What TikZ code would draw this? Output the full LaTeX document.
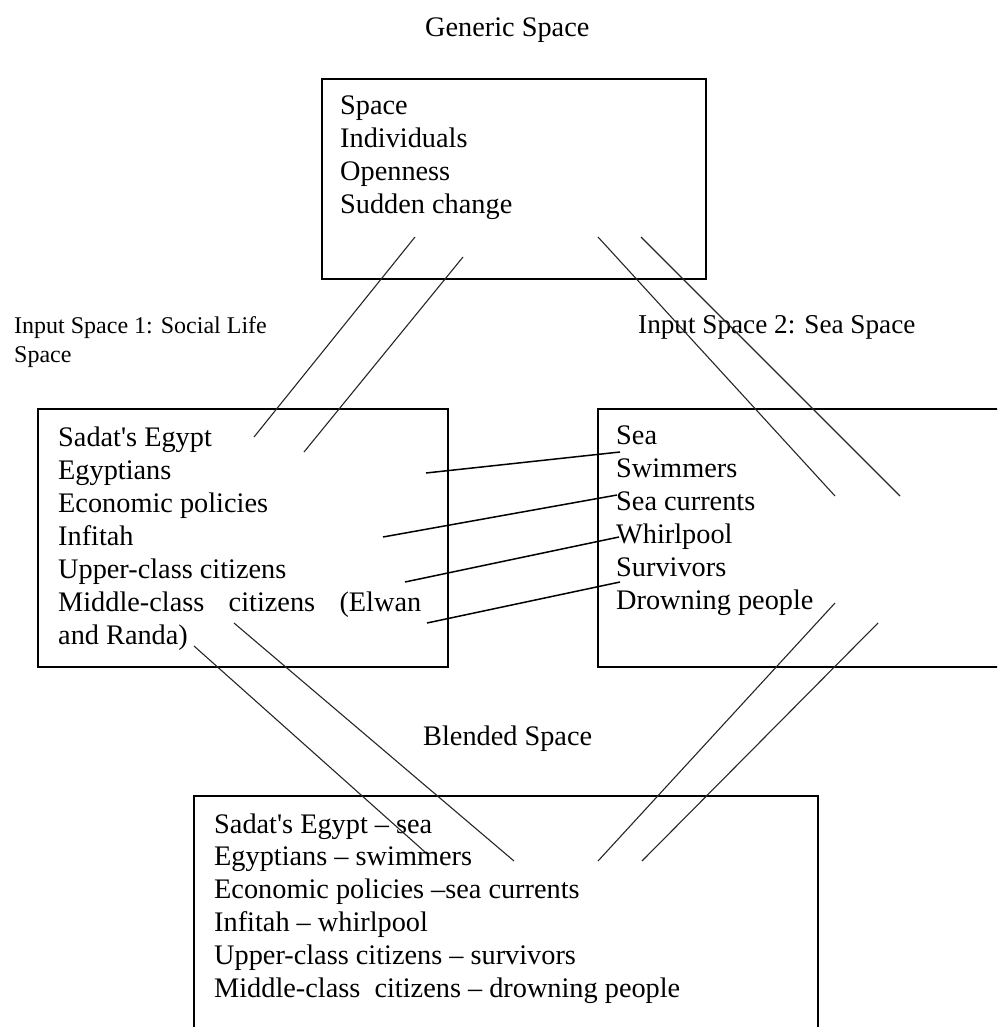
\documentclass[tikz,border=0pt]{standalone}
\usepackage{fontspec}
\setmainfont{Liberation Serif}
\begin{document}
\begin{tikzpicture}[x=1pt,y=-1pt,
  spacebox/.style={draw=black, line width=1.6pt, anchor=north west, inner sep=0pt, outer sep=0pt},
  boxtext/.style={anchor=north west, inner sep=0pt, align=left, font=\fontsize{28.3}{33}\selectfont},
  heading/.style={anchor=base west, inner sep=0pt, font=\fontsize{28.3}{33}\selectfont},
  link/.style={line width=1.5pt, black},
  diag/.style={line width=1.1pt, black!85}]
\useasboundingbox (0,0) rectangle (997,1027);
\clip (0,0) rectangle (997,1027);

% headings
\node[heading] (genlabel) at (425,37) {Generic Space};
\node[anchor=north west, inner sep=0pt, align=left, font=\fontsize{24}{29}\selectfont]
  (inlabelA) at (14,312.7) {\strut Input Space 1: Social Life\\Space};
\node[heading, font=\fontsize{27.2}{33}\selectfont] (inlabelB) at (638,333) {Input Space 2: Sea Space};
\node[heading] (blendlabel) at (423,745) {Blended Space};

% the four spaces
\node[spacebox, minimum width=384pt, minimum height=200pt] (generic) at (322,79) {};
\node[spacebox, minimum width=410pt, minimum height=258pt] (inputA) at (38,409) {};
\node[spacebox, minimum width=420pt, minimum height=258pt] (inputB) at (598,409) {};
\node[spacebox, minimum width=624pt, minimum height=260pt] (blend) at (194,796) {};

% contents
\node[boxtext] (gentext) at (340,90.9) {\strut Space\\Individuals\\Openness\\Sudden change};
\node[boxtext] (atext) at (58,423) {\strut Sadat\textquotesingle s Egypt\\Egyptians\\Economic policies\\Infitah\\Upper-class citizens\\
  \makebox[363pt][l]{Middle-class\hfill citizens\hfill (Elwan}\\and Randa)};
\node[boxtext] (btext) at (616,420.9) {\strut Sea\\Swimmers\\Sea currents\\Whirlpool\\Survivors\\Drowning people};
\node[boxtext, font=\fontsize{28.3}{32.8}\selectfont] (blendtext) at (214,810) {\strut Sadat\textquotesingle s Egypt -- sea\\Egyptians -- swimmers\\
  Economic policies --sea currents\\Infitah -- whirlpool\\Upper-class citizens -- survivors\\
  Middle-class\ \ citizens -- drowning people};

% end points of the mapping lines
\coordinate (g1) at (415,237); \coordinate (a1) at (254,437);
\coordinate (g2) at (463,257); \coordinate (a2) at (304,452);
\coordinate (g3) at (598,237); \coordinate (b3) at (835,496);
\coordinate (g4) at (641,237); \coordinate (b4) at (900,496);

\coordinate (ca1) at (426,473); \coordinate (cb1) at (620,452);
\coordinate (ca2) at (383,537); \coordinate (cb2) at (617,495);
\coordinate (ca3) at (405,582); \coordinate (cb3) at (619,537);
\coordinate (ca4) at (427,623); \coordinate (cb4) at (620,582);

\coordinate (da1) at (194,646); \coordinate (m1) at (425,852);
\coordinate (da2) at (234,623); \coordinate (m2) at (514,861);
\coordinate (db1) at (835,603); \coordinate (m3) at (598,861);
\coordinate (db2) at (878,623); \coordinate (m4) at (642,861);

% generic space to inputs
\draw[diag] (g1) -- (a1);
\draw[diag] (g2) -- (a2);
\draw[diag] (g3) -- (b3);
\draw[diag] (g4) -- (b4);

% cross-space mappings
\draw[link] (ca1) -- (cb1);
\draw[link] (ca2) -- (cb2);
\draw[link] (ca3) -- (cb3);
\draw[link] (ca4) -- (cb4);

% inputs to blend
\draw[diag] (da1) -- (m1);
\draw[diag] (da2) -- (m2);
\draw[diag] (db1) -- (m3);
\draw[diag] (db2) -- (m4);
\end{tikzpicture}
\end{document}
